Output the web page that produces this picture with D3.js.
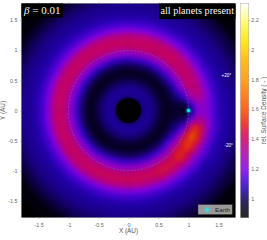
<!DOCTYPE html>
<html>
<head>
<meta charset="utf-8">
<script src="https://cdn.jsdelivr.net/npm/d3@7"></script>
<style>
  html, body { margin: 0; padding: 0; background: #fff; }
  svg { display: block; }
  text { font-family: "Liberation Sans", sans-serif; }
</style>
</head>
<body>
<div id="chart"></div>
<script>
// ring edges in AU, sector edges in degrees from +x
const ringEdges = [0.2,0.3,0.4,0.5,0.6,0.7,0.8,0.9,1.0,1.1,1.2,1.3,1.4,1.5,1.6,1.7,1.8,1.9,2.0,2.1,2.3,2.7];
const sectorEdges = [-180,-150,-120,-90,-65,-45,-33,-25,-18,-12,-7,-3,3,7,12,20,30,45,65,90,120,150,180];

// surface density, one row per sector, one column per ring
const density = [
  [1.04,1.05,1.02,.96,.92,.99,1.09,1.21,1.36,1.41,1.36,1.20,1.12,1.07,1.05,1.04,1.02,.99,.95,.88,.87],
  [1.04,1.05,1.02,.96,.92,.99,1.09,1.22,1.37,1.41,1.36,1.20,1.12,1.07,1.05,1.04,1.02,.99,.95,.89,.87],
  [1.04,1.05,1.02,.96,.93,1.00,1.10,1.23,1.38,1.42,1.36,1.20,1.12,1.07,1.05,1.04,1.02,1.00,.96,.90,.87],
  [1.04,1.05,1.02,.96,.93,1.00,1.10,1.24,1.39,1.42,1.36,1.20,1.12,1.07,1.05,1.04,1.02,1.00,.97,.90,.87],
  [1.04,1.05,1.02,.96,.93,1.00,1.11,1.26,1.41,1.45,1.38,1.22,1.13,1.07,1.05,1.04,1.02,.99,.96,.89,.87],
  [1.04,1.05,1.02,.96,.93,1.01,1.13,1.29,1.45,1.50,1.41,1.24,1.14,1.07,1.05,1.04,1.02,.99,.96,.89,.87],
  [1.04,1.05,1.02,.96,.93,1.00,1.10,1.27,1.48,1.55,1.45,1.26,1.15,1.08,1.06,1.04,1.02,.99,.96,.89,.87],
  [1.04,1.05,1.02,.96,.93,.99,1.06,1.19,1.46,1.59,1.48,1.28,1.15,1.08,1.06,1.04,1.02,.99,.96,.89,.87],
  [1.04,1.05,1.02,.96,.93,.98,1.02,1.11,1.37,1.52,1.45,1.27,1.15,1.08,1.06,1.04,1.02,.99,.96,.89,.87],
  [1.04,1.05,1.02,.96,.93,.96,.98,1.02,1.22,1.36,1.36,1.24,1.14,1.08,1.06,1.04,1.02,.99,.96,.89,.87],
  [1.04,1.05,1.02,.96,.93,.95,.96,.97,1.11,1.26,1.28,1.21,1.13,1.07,1.06,1.04,1.02,.99,.96,.89,.87],
  [1.04,1.05,1.02,.96,.93,.95,.95,.92,1.04,1.20,1.24,1.19,1.12,1.07,1.06,1.04,1.02,.99,.96,.89,.87],
  [1.04,1.05,1.02,.96,.93,.95,.96,.97,1.09,1.22,1.25,1.19,1.12,1.07,1.06,1.04,1.02,.99,.96,.89,.87],
  [1.04,1.05,1.02,.96,.93,.96,.98,1.03,1.18,1.29,1.29,1.20,1.12,1.07,1.06,1.04,1.02,.99,.96,.89,.87],
  [1.04,1.05,1.02,.96,.93,.98,1.04,1.13,1.30,1.36,1.33,1.20,1.12,1.07,1.05,1.04,1.02,.99,.96,.89,.87],
  [1.04,1.05,1.02,.96,.93,.99,1.08,1.21,1.36,1.39,1.34,1.20,1.12,1.07,1.05,1.04,1.02,.99,.96,.89,.87],
  [1.04,1.05,1.02,.96,.93,1.00,1.10,1.23,1.38,1.40,1.35,1.20,1.12,1.07,1.05,1.04,1.02,.99,.96,.89,.87],
  [1.04,1.05,1.02,.96,.93,1.00,1.10,1.24,1.39,1.41,1.36,1.20,1.12,1.07,1.05,1.04,1.02,.99,.96,.89,.87],
  [1.04,1.05,1.02,.96,.93,1.00,1.10,1.24,1.39,1.41,1.36,1.20,1.12,1.07,1.05,1.04,1.02,.99,.96,.89,.87],
  [1.04,1.05,1.02,.96,.93,.99,1.09,1.23,1.38,1.41,1.36,1.20,1.12,1.07,1.05,1.04,1.02,.99,.95,.89,.87],
  [1.04,1.05,1.02,.96,.92,.99,1.09,1.22,1.37,1.41,1.36,1.20,1.12,1.07,1.05,1.04,1.02,.99,.95,.89,.87],
  [1.04,1.05,1.02,.96,.92,.99,1.09,1.21,1.36,1.41,1.36,1.20,1.12,1.07,1.05,1.04,1.02,.99,.95,.88,.87]
];

const xyTicks = [-1.5,-1,-0.5,0,0.5,1,1.5];
const cbarTicks = [1,1.2,1.4,1.6,1.8,2,2.2];
const cmapValues = [0.873,0.95,1.0,1.06,1.13,1.2,1.3,1.4,1.5,1.6,1.8,1.93,2.05,2.18,2.31];
const cmapColors = ["#000000","#08002c","#12005a","#2000a8","#4a00d8","#8000e0","#a800a8","#c40068","#e02018","#f05000","#ff9000","#ffb000","#ffe000","#fff860","#ffffff"];
const holeRadius = [0.21];
const earthOrbit = [1];
const earthX = [1], earthY = [0];
const wedgeAngles = [20,-20];

const svgWidth = 267, svgHeight = 240;
const margin = { top: 3.5, right: 31.5, bottom: 22.5, left: 21.5 };
const width = svgWidth - margin.left - margin.right;
const height = svgHeight - margin.top - margin.bottom;

const svg = d3.select("#chart").append("svg")
  .attr("width", svgWidth).attr("height", svgHeight);

const x = d3.scaleLinear().domain([-1.783,1.783]).range([0,width]);
const y = d3.scaleLinear().domain([-1.776,1.776]).range([height,0]);
const color = d3.scaleLinear().domain(cmapValues).range(cmapColors).clamp(true);
const rpx = d3.scaleLinear().domain([0,1]).range([0,x(1)-x(0)]);

const defs = svg.append("defs");
defs.append("clipPath").attr("id","plotClip").append("rect")
  .attr("width",width).attr("height",height);
const blur = defs.append("filter").attr("id","soft")
  .attr("filterUnits","userSpaceOnUse")
  .attr("x",-60).attr("y",-60).attr("width",width+120).attr("height",height+120)
  .attr("color-interpolation-filters","sRGB");
blur.append("feGaussianBlur").attr("stdDeviation",1.9);
const glow = defs.append("filter").attr("id","glow")
  .attr("x","-150%").attr("y","-150%").attr("width","400%").attr("height","400%");
glow.append("feGaussianBlur").attr("stdDeviation",0.8);

const chart = svg.append("g").attr("transform",`translate(${margin.left},${margin.top})`);
const plot = chart.append("g").attr("clip-path","url(#plotClip)");
plot.append("rect").attr("width",width).attr("height",height).attr("fill","#000");

// polar cells, angle 0 of d3.arc is up so shift by 90 deg and flip
const arc = d3.arc();
const cells = plot.append("g").attr("filter","url(#soft)")
  .append("g").attr("transform",`translate(${x(0)},${y(0)})`);
density.forEach((row,s)=>{
  row.forEach((v,r)=>{
    cells.append("path")
      .attr("d",arc({
        innerRadius: rpx(ringEdges[r]),
        outerRadius: rpx(ringEdges[r+1]),
        startAngle: (90-sectorEdges[s+1])*Math.PI/180,
        endAngle: (90-sectorEdges[s])*Math.PI/180
      }))
      .attr("fill",color(v))
      .attr("stroke",color(v))
      .attr("stroke-width",0.4);
  });
});

plot.selectAll(".hole").data(holeRadius).enter().append("circle")
  .attr("cx",x(0)).attr("cy",y(0)).attr("r",d=>rpx(d)).attr("fill","#000");

// wedge lines either side of Earth
plot.selectAll(".wedge").data(wedgeAngles).enter().append("line")
  .attr("x1",d=>x(Math.cos(d*Math.PI/180)*1.02))
  .attr("y1",d=>y(Math.sin(d*Math.PI/180)*1.02))
  .attr("x2",d=>x(Math.cos(d*Math.PI/180)*1.45))
  .attr("y2",d=>y(Math.sin(d*Math.PI/180)*1.45))
  .attr("stroke","#300040").attr("stroke-width",0.3).attr("opacity",0.3);

plot.selectAll(".orbit").data(earthOrbit).enter().append("circle")
  .attr("cx",x(0)).attr("cy",y(0)).attr("r",d=>rpx(d))
  .attr("fill","none").attr("stroke","#5f90e8").attr("stroke-width",0.5)
  .attr("stroke-dasharray","2 1.6").attr("opacity",0.8);

plot.append("text").attr("x",x(1.63)).attr("y",y(0.55)).attr("text-anchor","middle")
  .attr("fill","#fff").attr("font-size",4.6).text("+20°");
plot.append("text").attr("x",x(1.67)).attr("y",y(-0.6)).attr("text-anchor","middle")
  .attr("fill","#fff").attr("font-size",4.6).text("-20°");

plot.selectAll(".earthGlow").data(earthX).enter().append("circle")
  .attr("cx",d=>x(d)).attr("cy",y(earthY[0])).attr("r",2.2)
  .attr("fill","#00ffff").attr("opacity",0.7).attr("filter","url(#glow)");
plot.selectAll(".earth").data(earthX).enter().append("circle")
  .attr("cx",d=>x(d)).attr("cy",y(earthY[0])).attr("r",1.5).attr("fill","#10f0f0");

// axes
const tickColor = "#888", labelColor = "#666";
function styleAxis(g){
  g.select(".domain").remove();
  g.selectAll("line").attr("stroke",tickColor).attr("stroke-width",0.4);
  g.selectAll("text").attr("fill",labelColor).attr("font-size",5.4)
    .attr("font-family","Liberation Sans");
}
const fmt = d=>String(d);
chart.append("g").attr("transform",`translate(0,${height})`)
  .call(d3.axisBottom(x).tickValues(xyTicks).tickFormat(fmt).tickSize(1.5).tickPadding(4)).call(styleAxis);
chart.append("g")
  .call(d3.axisTop(x).tickValues(xyTicks).tickFormat("").tickSize(1.5)).call(styleAxis);
chart.append("g")
  .call(d3.axisLeft(y).tickValues(xyTicks).tickFormat(fmt).tickSize(1.5).tickPadding(2.5)).call(styleAxis);
chart.append("rect").attr("width",width).attr("height",height)
  .attr("fill","none").attr("stroke","#888").attr("stroke-width",0.3);

chart.append("text").attr("x",x(0)).attr("y",height+15)
  .attr("text-anchor","middle").attr("fill","#555").attr("font-size",6.4).text("X (AU)");
chart.append("text").attr("transform",`translate(-16.5,${y(0)}) rotate(-90)`)
  .attr("text-anchor","middle").attr("fill","#555").attr("font-size",6.4).text("Y (AU)");

// title boxes
chart.append("rect").attr("x",0).attr("y",0).attr("width",41.5).attr("height",14).attr("fill","#000");
const betaText = chart.append("text").attr("x",2.5).attr("y",10.5).attr("fill","#f4f4f4")
  .attr("font-size",11).style("font-family","'Liberation Serif', serif");
betaText.append("tspan").attr("font-style","italic").text("β");
betaText.append("tspan").text(" = 0.01");

chart.append("rect").attr("x",width-76.5).attr("y",0).attr("width",76.5).attr("height",15.5).attr("fill","#000");
chart.append("text").attr("x",width-1.5).attr("y",10.5).attr("text-anchor","end").attr("fill","#f4f4f4")
  .attr("font-size",10.2).style("font-family","'Liberation Serif', serif").text("all planets present");

// legend
const legend = chart.append("g").attr("transform",`translate(${x(1.16)},${y(-1.565)})`);
legend.append("rect").attr("width",34).attr("height",9.5).attr("fill","#9a9a9a").attr("stroke","#777").attr("stroke-width",0.3);
legend.append("circle").attr("cx",9).attr("cy",4.8).attr("r",2.4).attr("fill","#00ffff").attr("opacity",0.6).attr("filter","url(#glow)");
legend.append("circle").attr("cx",9).attr("cy",4.8).attr("r",1.4).attr("fill","#10f0f0");
legend.append("text").attr("x",17).attr("y",7).attr("fill","#222").attr("font-size",6.2).text("Earth");

// colorbar
const cbarX = width + 5, cbarW = 8.3;
const cbarDomain = [0.873,2.31];
const cy = d3.scaleLinear().domain(cbarDomain).range([height,0]);
const cbar = chart.append("g").attr("transform",`translate(${cbarX},0)`);
const steps = d3.range(0,height);
cbar.selectAll("rect.step").data(steps).enter().append("rect")
  .attr("class","step").attr("x",0).attr("width",cbarW)
  .attr("y",d=>d).attr("height",1.2)
  .attr("fill",d=>color(cy.invert(d+0.5)));
cbar.append("rect").attr("width",cbarW).attr("height",height)
  .attr("fill","none").attr("stroke","#999").attr("stroke-width",0.4);
cbar.append("g").attr("transform",`translate(${cbarW},0)`)
  .call(d3.axisRight(cy).tickValues(cbarTicks).tickFormat(fmt).tickSize(1.5).tickPadding(1)).call(styleAxis);
chart.append("text").attr("transform",`translate(${width+30},${y(0)}) rotate(-90)`)
  .attr("text-anchor","middle").attr("fill","#555").attr("font-size",6.4).text("rel. Surface Density ( - )");
</script>
</body>
</html>
